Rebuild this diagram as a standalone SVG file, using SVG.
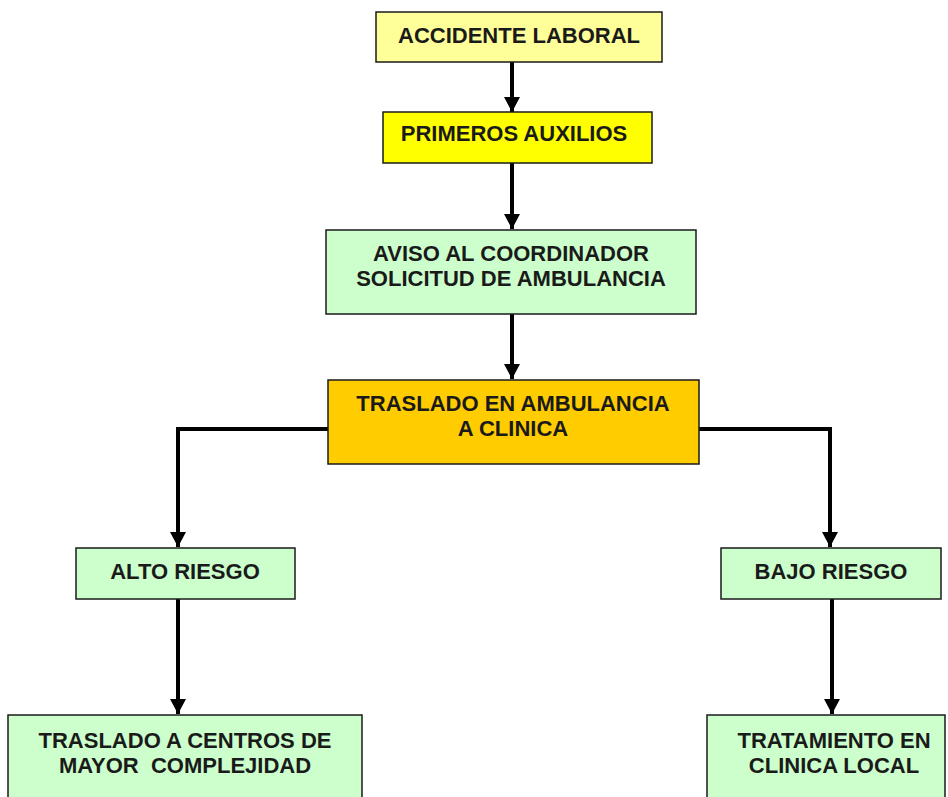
<svg xmlns="http://www.w3.org/2000/svg" width="948" height="797" viewBox="0 0 948 797">
<defs>
<style>
.box{stroke:#1a1a1a;stroke-width:1.5}
.t{font-family:"Liberation Sans",Arial,sans-serif;font-weight:bold;font-size:22px;fill:#1a1a1a;text-anchor:middle}
.c{fill:none;stroke:#000;stroke-width:4}
</style>
<marker id="ah" markerWidth="16" markerHeight="16" refX="15" refY="8" orient="auto" markerUnits="userSpaceOnUse">
<path d="M0,0 L15,8 L0,16 Z" fill="#000"/>
</marker>
</defs>
<rect width="948" height="797" fill="#fff"/>
<g id="connectors">
<path class="c" d="M512,62 V112" marker-end="url(#ah)"/>
<path class="c" d="M512,163 V229" marker-end="url(#ah)"/>
<path class="c" d="M512,314 V379" marker-end="url(#ah)"/>
<path class="c" d="M328,429 H178 V547" marker-end="url(#ah)"/>
<path class="c" d="M699,429 H830 V547" marker-end="url(#ah)"/>
<path class="c" d="M178,599 V714" marker-end="url(#ah)"/>
<path class="c" d="M832,599 V714" marker-end="url(#ah)"/>
</g>
<g id="n1">
<rect class="box" x="376" y="12" width="286" height="50" fill="#FFFF99"/>
<text class="t" x="519" y="43">ACCIDENTE LABORAL</text>
</g>
<g id="n2">
<rect class="box" x="383" y="112" width="269" height="51" fill="#FFFF00"/>
<text class="t" x="514" y="141">PRIMEROS AUXILIOS</text>
</g>
<g id="n3">
<rect class="box" x="326" y="230" width="370" height="84" fill="#CCFFCC"/>
<text class="t" x="511" y="261">AVISO AL COORDINADOR</text>
<text class="t" x="511" y="286">SOLICITUD DE AMBULANCIA</text>
</g>
<g id="n4">
<rect class="box" x="328" y="380" width="371" height="84" fill="#FFCC00"/>
<text class="t" x="513" y="411">TRASLADO EN AMBULANCIA</text>
<text class="t" x="513" y="436">A CLINICA</text>
</g>
<g id="n5">
<rect class="box" x="76" y="548" width="219" height="51" fill="#CCFFCC"/>
<text class="t" x="185" y="579">ALTO RIESGO</text>
</g>
<g id="n6">
<rect class="box" x="721" y="548" width="220" height="51" fill="#CCFFCC"/>
<text class="t" x="831" y="579">BAJO RIESGO</text>
</g>
<g id="n7">
<rect class="box" x="8" y="715" width="354" height="100" fill="#CCFFCC"/>
<text class="t" x="185" y="748">TRASLADO A CENTROS DE</text>
<text class="t" x="185" y="773" xml:space="preserve">MAYOR  COMPLEJIDAD</text>
</g>
<g id="n8">
<rect class="box" x="707" y="715" width="238" height="100" fill="#CCFFCC"/>
<text class="t" x="834" y="748">TRATAMIENTO EN</text>
<text class="t" x="834" y="773">CLINICA LOCAL</text>
</g>
</svg>
